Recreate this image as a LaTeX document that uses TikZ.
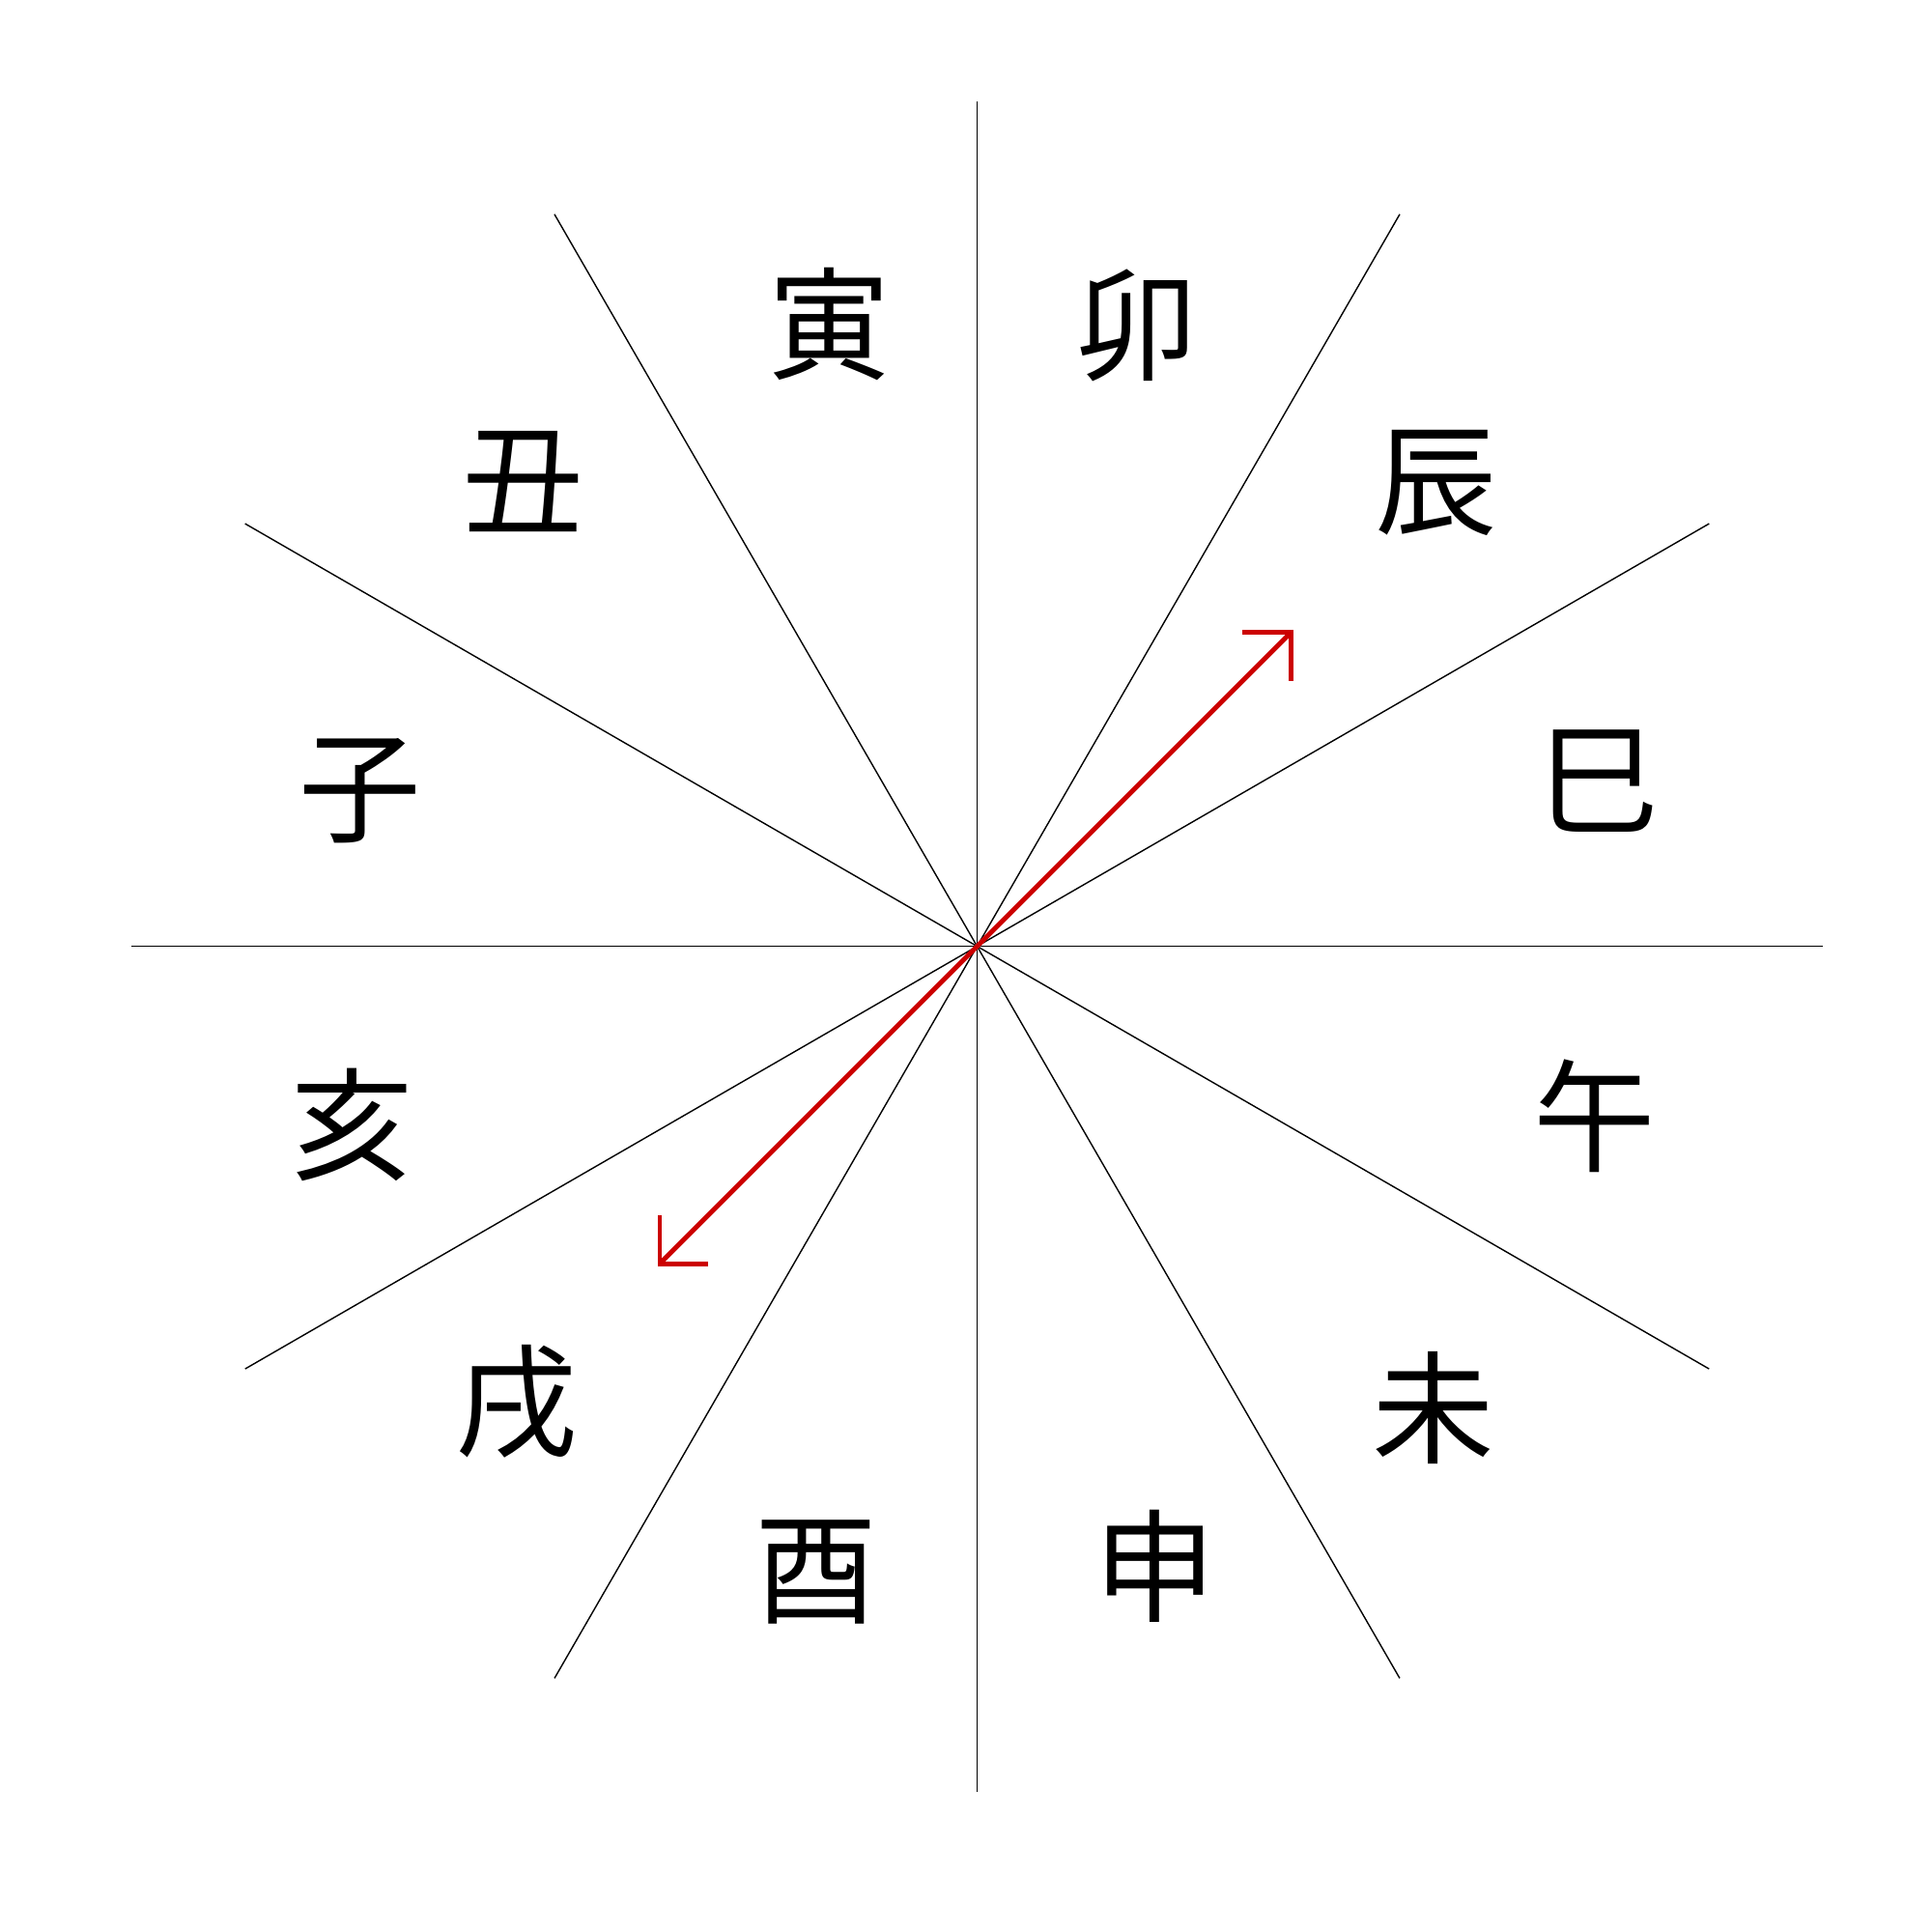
\documentclass[tikz,border=0pt]{standalone}
\usepackage{fontspec}
\newfontfamily\cjk{Noto Sans CJK JP}
\usepackage{tikz}
\usetikzlibrary{arrows.meta}
\definecolor{arrowred}{RGB}{204,0,0}

\begin{document}
\begin{tikzpicture}
  [every node/.style={font=\cjk\fontsize{36}{42}\selectfont,inner sep=0pt},
   spoke/.style={draw=black,line width=0.4pt},
   redarrow/.style={draw=arrowred,line width=1.4pt,{Straight Barb[angle=90:5mm]}-{Straight Barb[angle=90:5mm]}}]
  \useasboundingbox (-10.115,-10.204) rectangle (9.885,9.796);
  \coordinate (o) at (0,0);

  % twelve spokes
  \foreach \k in {0,...,11}
    \coordinate (r\k) at (\k*30:8.75);
  \foreach \k in {0,...,11}
    \draw[spoke] (o) -- (r\k);

  % branch names
  \node (si) at (6.43,1.71) {巳};
  \node (chen) at (4.75,4.80) {辰};
  \node (mao) at (1.65,6.43) {卯};
  \node (yin) at (-1.53,6.44) {寅};
  \node (chou) at (-4.70,4.81) {丑};
  \node (zi) at (-6.39,1.61) {子};
  \node (hai) at (-6.47,-1.85) {亥};
  \node (xu) at (-4.77,-4.72) {戌};
  \node (you) at (-1.67,-6.48) {酉};
  \node (shen) at (1.84,-6.42) {申};
  \node (wei) at (4.72,-4.78) {未};
  \node (wu) at (6.39,-1.76) {午};

  \coordinate (a1) at (45:4.63);
  \coordinate (a2) at (225:4.68);
  \draw[redarrow] (a2) -- (a1);

\end{tikzpicture}
\end{document}
